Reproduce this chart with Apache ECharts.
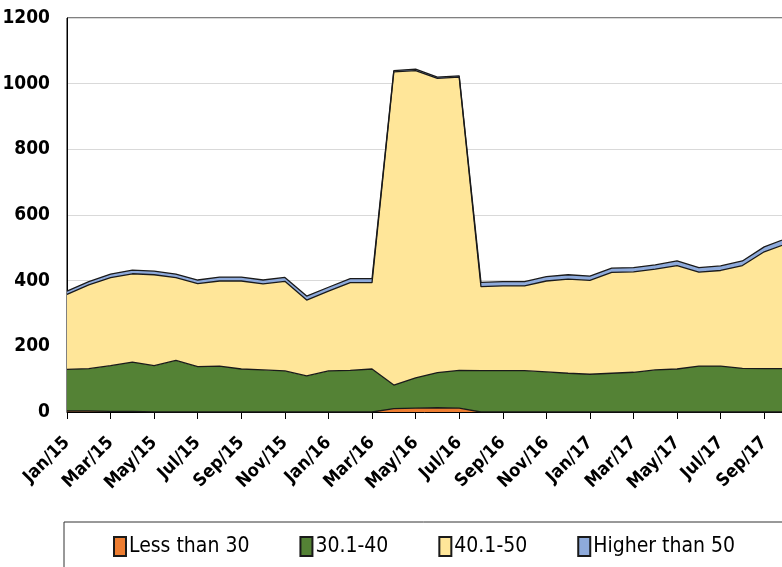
<!DOCTYPE html>
<html>
<head>
<meta charset="utf-8">
<script src="https://cdn.jsdelivr.net/npm/echarts@6/dist/echarts.min.js"></script>
<style>
  html, body { margin: 0; padding: 0; background: #fff; overflow: hidden; }
  #chart { width: 782px; height: 567px; }
</style>
</head>
<body>
<div id="chart"></div>
<script>
// months shown on the x axis (one per month, every other one labelled)
const months = [
  "Jan/15", "Feb/15", "Mar/15", "Apr/15", "May/15", "Jun/15", "Jul/15", "Aug/15", "Sep/15", "Oct/15", "Nov/15", "Dec/15",
  "Jan/16", "Feb/16", "Mar/16", "Apr/16", "May/16", "Jun/16", "Jul/16", "Aug/16", "Sep/16", "Oct/16", "Nov/16", "Dec/16",
  "Jan/17", "Feb/17", "Mar/17", "Apr/17", "May/17", "Jun/17", "Jul/17", "Aug/17", "Sep/17", "Oct/17"
];

const lessThan30 = [3, 3, 2, 2, 0, 0, 0, 0, 0, 0, 0, 0, 0, 0, 0, 10, 12, 13, 12, 0, 0, 0, 0, 0, 0, 0, 0, 0, 0, 0, 0, 0, 0, 0];
const from30to40 = [127, 129, 139, 150, 141, 157, 138, 140, 131, 128, 125, 110, 125, 127, 131, 72, 92, 107, 115, 126, 126, 126, 122, 118, 115, 118, 121, 128, 131, 140, 140, 133, 132, 132];
const from40to50 = [228, 255, 268, 269, 277, 252, 253, 259, 268, 262, 273, 231, 243, 267, 263, 954, 936, 896, 893, 256, 258, 258, 277, 287, 286, 307, 306, 307, 315, 286, 291, 313, 356, 380];
const higherThan50 = [10, 10, 11, 11, 11, 11, 11, 12, 12, 12, 12, 12, 12, 12, 12, 4, 4, 4, 4, 13, 13, 13, 13, 13, 13, 13, 13, 13, 14, 14, 14, 14, 15, 16];

const yTicks = { min: 0, max: 1200, step: 200 };

const font = "'Liberation Sans Narrow', 'DejaVu Sans Condensed', 'Liberation Sans', sans-serif";

function area(name, data, color) {
  return {
    name: name,
    type: "line",
    stack: "total",
    data: data,
    symbol: "none",
    smooth: false,
    lineStyle: { color: "#1a1a1a", width: 1.3 },
    areaStyle: { color: color, opacity: 1 },
    itemStyle: { color: color, borderColor: "#1a1a1a", borderWidth: 1 },
  };
}

const chart = echarts.init(document.getElementById("chart"));
chart.setOption({
  animation: false,
  backgroundColor: "#fff",
  grid: {
    left: 67,
    top: 18,
    right: -4,
    bottom: 155,
    outerBoundsMode: "none",
    containLabel: false,
    show: true,
    borderColor: "#000",
    borderWidth: 1,
  },
  graphic: [
    {
      // legend frame
      type: "rect",
      shape: { x: 64, y: 522, width: 740, height: 80 },
      style: { fill: "none", stroke: "#333", lineWidth: 1 },
      silent: true,
    },
  ],
  legend: {
    left: 108,
    top: 531,
    width: 700,
    icon: "rect",
    itemWidth: 12,
    itemHeight: 19,
    itemGap: 50,
    textStyle: { fontFamily: font, fontSize: 21, color: "#000", padding: [0, 0, 0, -2] },
    data: ["Less than 30", "30.1-40", "40.1-50", "Higher than 50"],
  },
  xAxis: {
    type: "category",
    data: months,
    boundaryGap: false,
    axisLine: { show: true, lineStyle: { color: "#000", width: 1 } },
    axisTick: { show: true, interval: 1, length: 7, lineStyle: { color: "#000" } },
    axisLabel: {
      interval: 1,
      rotate: 45,
      margin: 28,
      color: "#000",
      fontFamily: font,
      fontWeight: "bold",
      fontSize: 18,
    },
    splitLine: { show: false },
  },
  yAxis: {
    type: "value",
    min: yTicks.min,
    max: yTicks.max,
    interval: yTicks.step,
    axisLine: { show: true, lineStyle: { color: "#000" } },
    axisTick: { show: false },
    axisLabel: {
      margin: 17,
      color: "#000",
      fontFamily: font,
      fontWeight: "bold",
      fontSize: 19,
      formatter: (v) => String(v),
    },
    splitLine: { show: true, lineStyle: { color: "#d9d9d9", width: 1 } },
  },
  series: [
    area("Less than 30", lessThan30, "#ed7d31"),
    area("30.1-40", from30to40, "#548235"),
    area("40.1-50", from40to50, "#ffe699"),
    area("Higher than 50", higherThan50, "#8eaadb"),
  ],
});
</script>
</body>
</html>
